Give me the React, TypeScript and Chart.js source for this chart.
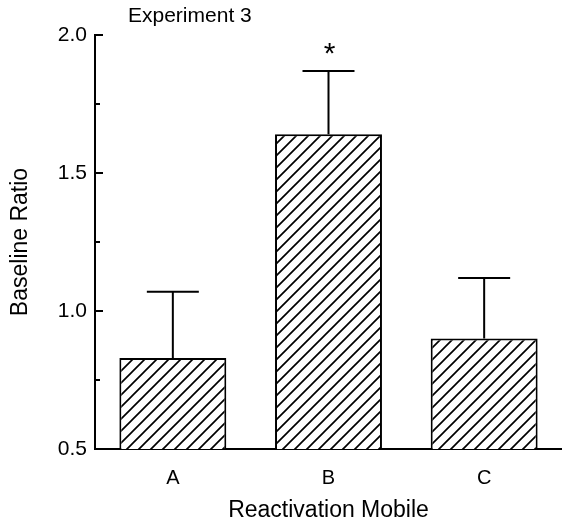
import React, { useEffect, useRef } from "react";
import { Chart, registerables } from "chart.js";

Chart.register(...registerables);

const categories = ["A", "B", "C"];
const means = [0.83, 1.64, 0.9];
const errors = [0.24, 0.23, 0.22];
const significance = ["", "*", ""];
const majorTicks = [0.5, 1.0, 1.5, 2.0];
const minorTicks = [0.75, 1.25, 1.75];
const chartTitle = "Experiment 3";
const xTitle = "Reactivation Mobile";
const yTitle = "Baseline Ratio";

const FONT = "'Liberation Sans', Arial, Helvetica, sans-serif";

function makeHatch(): CanvasPattern | string {
  const p = 12;
  const c = document.createElement("canvas");
  c.width = p;
  c.height = p;
  const g = c.getContext("2d");
  if (!g) return "#fff";
  g.fillStyle = "#fff";
  g.fillRect(0, 0, p, p);
  g.strokeStyle = "#000";
  g.lineWidth = 1.7;
  g.beginPath();
  g.moveTo(0, p);
  g.lineTo(p, 0);
  g.moveTo(-p / 2, p / 2);
  g.lineTo(p / 2, -p / 2);
  g.moveTo(p / 2, p * 1.5);
  g.lineTo(p * 1.5, p / 2);
  g.stroke();
  return g.createPattern(c, "repeat") || "#fff";
}

const overlay = {
  id: "overlay",
  afterDatasetsDraw(chart: any) {
    const ctx = chart.ctx as CanvasRenderingContext2D;
    const ys = chart.scales.y;
    const meta = chart.getDatasetMeta(0);
    ctx.save();
    ctx.strokeStyle = "#000";
    ctx.fillStyle = "#000";
    ctx.lineWidth = 2;
    meta.data.forEach((bar: any, i: number) => {
      const x = bar.x;
      const yTop = ys.getPixelForValue(means[i]);
      const yErr = ys.getPixelForValue(means[i] + errors[i]);
      ctx.beginPath();
      ctx.moveTo(x, yTop);
      ctx.lineTo(x, yErr);
      ctx.moveTo(x - 26, yErr);
      ctx.lineTo(x + 26, yErr);
      ctx.stroke();
      if (significance[i]) {
        ctx.font = `30px ${FONT}`;
        ctx.textAlign = "center";
        ctx.textBaseline = "alphabetic";
        ctx.fillText(significance[i], x + 1, yErr - 8);
      }
    });
    const xL = chart.chartArea.left;
    ctx.beginPath();
    majorTicks.forEach((v) => {
      const y = ys.getPixelForValue(v);
      ctx.moveTo(xL, y);
      ctx.lineTo(xL + 8, y);
    });
    minorTicks.forEach((v) => {
      const y = ys.getPixelForValue(v);
      ctx.moveTo(xL, y);
      ctx.lineTo(xL + 5, y);
    });
    ctx.stroke();
    ctx.font = `21px ${FONT}`;
    ctx.textAlign = "left";
    ctx.textBaseline = "middle";
    ctx.fillText(chartTitle, 128, 16);
    ctx.restore();
  },
};

export default function App() {
  const ref = useRef<HTMLCanvasElement | null>(null);
  useEffect(() => {
    if (!ref.current) return;
    const hatch = makeHatch();
    const chart = new Chart(ref.current, {
      type: "bar",
      data: {
        labels: categories,
        datasets: [
          {
            data: means,
            backgroundColor: hatch as any,
            borderColor: "#000",
            borderWidth: 2,
            borderSkipped: false,
            barPercentage: 0.687,
            categoryPercentage: 1,
          },
        ],
      },
      plugins: [overlay],
      options: {
        responsive: false,
        animation: false,
        layout: { padding: { left: 0, right: 0, top: 35, bottom: 0 } },
        plugins: {
          legend: { display: false },
          tooltip: { enabled: false },
          title: { display: false },
        },
        scales: {
          x: {
            grid: { display: false, drawTicks: false },
            border: { display: true, color: "#000", width: 2 },
            ticks: {
              color: "#000",
              font: { family: FONT, size: 20 },
              padding: 17,
            },
            title: {
              display: true,
              text: xTitle,
              color: "#000",
              font: { family: FONT, size: 23 },
              padding: { top: 0, bottom: 1 },
            },
            afterFit: (s: any) => {
              s.height = 76;
            },
          },
          y: {
            min: 0.5,
            max: 2.0,
            grid: { display: false, drawTicks: false },
            border: { display: true, color: "#000", width: 2 },
            ticks: {
              stepSize: 0.5,
              color: "#000",
              font: { family: FONT, size: 21 },
              padding: 8,
              callback: (v: any) => Number(v).toFixed(1),
            },
            title: {
              display: true,
              text: yTitle,
              color: "#000",
              font: { family: FONT, size: 23 },
              padding: { top: 7, bottom: 0 },
            },
            afterFit: (s: any) => {
              s.width = 95;
            },
          },
        },
      },
    });
    return () => chart.destroy();
  }, []);
  return (
    <div style={{ position: "absolute", left: 0, top: 0, width: 562, height: 525, background: "#fff" }}>
      <canvas ref={ref} width={562} height={525} style={{ display: "block" }} />
    </div>
  );
}
